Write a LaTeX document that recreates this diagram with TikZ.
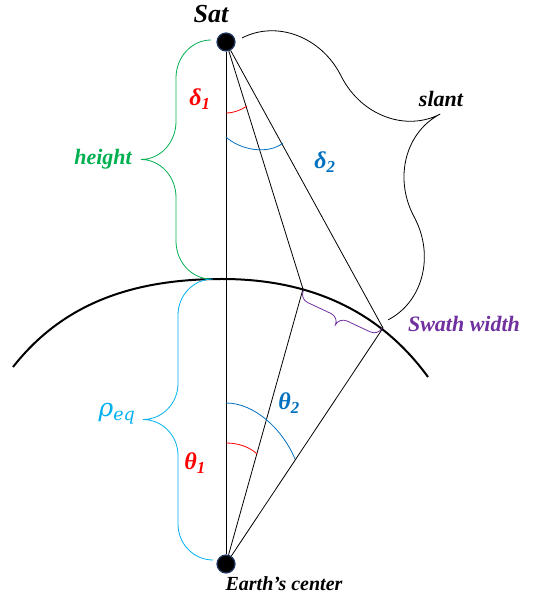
\documentclass[tikz,border=0pt]{standalone}
\usepackage{fontspec}
\setmainfont{Liberation Serif}
\newfontfamily\rhofont{DejaVu Serif}
\usetikzlibrary{calc}

\definecolor{hgreen}{RGB}{0,176,80}
\definecolor{dblue}{RGB}{0,112,192}
\definecolor{rcyan}{RGB}{0,176,240}
\definecolor{swpurple}{RGB}{112,48,160}
\definecolor{dotrim}{RGB}{31,56,100}

\tikzset{
  dot/.style={circle,fill=black,draw=dotrim,line width=1.2pt,inner sep=0pt,minimum size=18pt},
  lbl/.style={font=\fontsize{22}{26}\selectfont\bfseries\itshape},
  ang/.style={font=\fontsize{24}{28}\selectfont\bfseries\itshape},
  % brace of length #1, corner #2, depth #3
  pics/curly/.style n args={3}{code={
    \draw (0,0) .. controls (0,{0.276*#3}) and ({0.448*#2},{#3/2}) .. (#2,{#3/2})
      -- ({#1/2-#2},{#3/2}) .. controls ({#1/2-0.448*#2},{#3/2}) and ({#1/2},{0.724*#3}) .. ({#1/2},#3)
      .. controls ({#1/2},{0.724*#3}) and ({#1/2+0.448*#2},{#3/2}) .. ({#1/2+#2},{#3/2})
      -- ({#1-#2},{#3/2}) .. controls ({#1-0.448*#2},{#3/2}) and (#1,{0.276*#3}) .. (#1,0);
  }}
}

\begin{document}
\begin{tikzpicture}[x=1pt,y=1pt,line width=0.8pt]
        \useasboundingbox (0,0) rectangle (537,599);

        \coordinate (p1) at (303,310);
        \coordinate (p2) at (383,271);

        % earth surface
        \draw[line width=2pt] (13,232) .. controls (62.6,295.2) and (132,320) .. (222,320)
              .. controls (312,320) and (380.8,286.8) .. (428,222);

        \node[dot] (sat) at (226,557) {};
        \node[dot] (ctr) at (226,35) {};

        \draw (sat) -- (ctr);
        \draw (sat) -- (p1);
        \draw (sat) -- (p2);
        \draw (ctr) -- (p1);
        \draw (ctr) -- (p2);

        % angles
        \draw[red] (226,486) .. controls (234,486) and (241,489) .. (247,493);
        \draw[dblue] (226,462) .. controls (240,449) and (268,444) .. (283,456);
        \draw[red] (226,156) .. controls (238,156) and (250,152) .. (257,145);
        \draw[dblue] (226,196) .. controls (255,196) and (283,169) .. (295,140);

        % braces
        \pic[hgreen,rotate=90] at (211,320) {curly={239}{38}{70}};
        \pic[rcyan,rotate=90] at (213,39) {curly={281}{36}{70}};
        \pic[swpurple,rotate=154.9] at (382,271) {curly={87}{9}{17}};
        \pic[rotate=-62.6] at (242,561) {curly={317.5}{78}{141}};

        \node[font=\fontsize{26}{30}\selectfont\bfseries\itshape] (satlbl) at (211,585) {Sat};
        \node[font=\fontsize{20}{24}\selectfont\bfseries\itshape] (ctrlbl) at (284,15) {Earth's center};
        \node[lbl,hgreen] (hlbl) at (103,440) {height};
        \node[lbl] (slbl) at (441,500) {slant};
        \node[lbl,swpurple] (swlbl) at (464,275) {Swath width};
        \node[ang,red] (d1) at (200,500) {δ\textsubscript{1}};
        \node[ang,dblue] (d2) at (325,437) {δ\textsubscript{2}};
        \node[ang,red] (t1) at (195,136) {θ\textsubscript{1}};
        \node[ang,dblue] (t2) at (289,196) {θ\textsubscript{2}};
        \node[rcyan,font=\fontsize{25}{30}\selectfont\rhofont\itshape] (rho) at (117,185) {ρ\textsubscript{eq}};
\end{tikzpicture}
\end{document}
